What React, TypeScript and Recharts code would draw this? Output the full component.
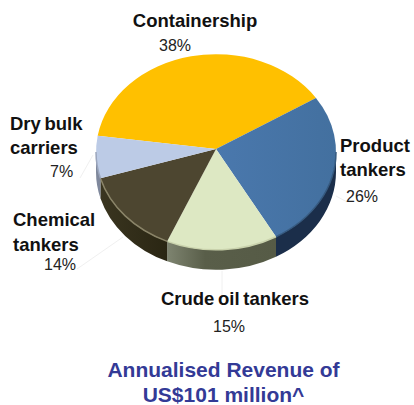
import React from "react";
import { PieChart, Pie, Cell } from "recharts";

const categories = ["Containership", "Product tankers", "Crude oil tankers", "Chemical tankers", "Dry bulk carriers"];
const shares = [38, 26, 15, 14, 7];
const titleLines = ["Annualised Revenue of", "US$101 million^"];

const nameLines = [["Containership"], ["Product", "tankers"], ["Crude oil tankers"], ["Chemical", "tankers"], ["Dry bulk", "carriers"]];
const topColors = ["#ffc000", "url(#blueTop)", "#dde8c3", "#4d4630", "#bccbe6"];
const sideColors = ["#a67c00", "#1b2e4a", "url(#greenSide)", "url(#darkSide)", "#7f889c"];
const rimColors = ["#ffc000", "#35597f", "#c9d2ac", "#8a8468", "#9aa5bc"];

// where each label sits: x / anchor / baseline of name lines, then the percent, then its faint leader
const labelLayout = [
  { x: 195, anchor: "middle", y: [27], px: 175, panchor: "middle", py: 51, leader: null },
  { x: 340, anchor: "start", y: [152, 176], px: 346, panchor: "start", py: 201.5, leader: "M336 196 L347 202" },
  { x: 235, anchor: "middle", y: [305], px: 229, panchor: "middle", py: 332, leader: "M222 271 L222 296" },
  { x: 13, anchor: "start", y: [226, 251], px: 44, panchor: "start", py: 270, leader: "M77 269 L123 237" },
  { x: 10, anchor: "start", y: [130, 154], px: 50, panchor: "start", py: 177, leader: "M80 178 L93 155" },
];

const chartData = categories.map((name, i) => ({ name, value: shares[i] }));

const SQUASH = 0.815;
const DEPTH = 20;
const APEX_LIFT = 3; // the perspective in the original puts the tip a little above the ellipse centre
const RAD = Math.PI / 180;

function pt(cx: number, cy: number, r: number, a: number, dy = 0) {
  return `${cx + r * Math.cos(a * RAD)} ${cy - r * SQUASH * Math.sin(a * RAD) + dy}`;
}

// pie slice flattened into an ellipse, with its visible side wall underneath
function TiltedSlice(props: any) {
  const { cx, cy, outerRadius: r, startAngle, endAngle, index } = props;
  const rx = r;
  const ry = r * SQUASH;
  const big = Math.abs(startAngle - endAngle) > 180 ? 1 : 0;
  const top = `M ${cx} ${cy - APEX_LIFT} L ${pt(cx, cy, r, startAngle)} A ${rx} ${ry} 0 ${big} 1 ${pt(cx, cy, r, endAngle)} Z`;

  // only the front half of the wall can be seen
  let from = startAngle > 180 ? startAngle - 360 : startAngle;
  let to = endAngle;
  from = Math.min(from, 0);
  to = Math.max(to, -180);
  const hasSide = from > to;
  const side = `M ${pt(cx, cy, r, from)} A ${rx} ${ry} 0 0 1 ${pt(cx, cy, r, to)} L ${pt(cx, cy, r, to, DEPTH)} A ${rx} ${ry} 0 0 0 ${pt(cx, cy, r, from, DEPTH)} Z`;
  const rim = `M ${pt(cx, cy, r, from)} A ${rx} ${ry} 0 0 1 ${pt(cx, cy, r, to)}`;

  return (
    <g>
      {hasSide && <path d={side} fill={sideColors[index]} />}
      <path d={top} fill={topColors[index]} />
      {hasSide && <path d={rim} fill="none" stroke={rimColors[index]} strokeWidth={1.5} />}
    </g>
  );
}

function SliceLabel(props: any) {
  const { index } = props;
  const l = labelLayout[index];
  return (
    <g>
      {l.leader && <path d={l.leader} fill="none" stroke="#f0f0f0" strokeWidth={1} />}
      {nameLines[index].map((line, i) => (
        <text
          key={line}
          x={l.x}
          y={l.y[i]}
          textAnchor={l.anchor}
          fontFamily="Liberation Sans"
          fontWeight="bold"
          fontSize={18.5}
          wordSpacing={-1.5}
          fill="#111"
        >
          {line}
        </text>
      ))}
      <text x={l.px} y={l.py} textAnchor={l.panchor} fontFamily="Liberation Sans" fontSize={16} fill="#222">
        {shares[index]}%
      </text>
    </g>
  );
}

export default function App() {
  return (
    <div style={{ position: "absolute", left: 0, top: 0, width: 414, height: 405, background: "#fff", overflow: "hidden" }}>
      <PieChart width={414} height={405} margin={{ top: 0, right: 0, bottom: 0, left: 0 }}>
        <defs>
          <linearGradient id="blueTop" x1="0" y1="0" x2="1" y2="0">
            <stop offset="0" stopColor="#4a78ad" />
            <stop offset="1" stopColor="#43709f" />
          </linearGradient>
          <linearGradient id="greenSide" x1="0" y1="0" x2="1" y2="0">
            <stop offset="0" stopColor="#7e8470" />
            <stop offset="0.35" stopColor="#595e49" />
            <stop offset="1" stopColor="#565b46" />
          </linearGradient>
          <linearGradient id="darkSide" x1="0" y1="0" x2="1" y2="0">
            <stop offset="0" stopColor="#3a3520" />
            <stop offset="1" stopColor="#2a2613" />
          </linearGradient>
        </defs>
        <Pie
          data={chartData}
          dataKey="value"
          nameKey="name"
          cx={216}
          cy={152}
          outerRadius={120}
          startAngle={170.4}
          endAngle={-189.6}
          stroke="none"
          shape={TiltedSlice}
          label={SliceLabel}
          labelLine={false}
          isAnimationActive={false}
        >
          {chartData.map((d) => (
            <Cell key={d.name} />
          ))}
        </Pie>
      </PieChart>
      <div
        style={{
          position: "absolute",
          left: 0,
          top: 358,
          width: 447,
          textAlign: "center",
          fontFamily: "Liberation Sans",
          fontWeight: "bold",
          fontSize: 21,
          lineHeight: "24.5px",
          color: "#333a96",
        }}
      >
        {titleLines.map((t) => (
          <div key={t}>{t}</div>
        ))}
      </div>
    </div>
  );
}
